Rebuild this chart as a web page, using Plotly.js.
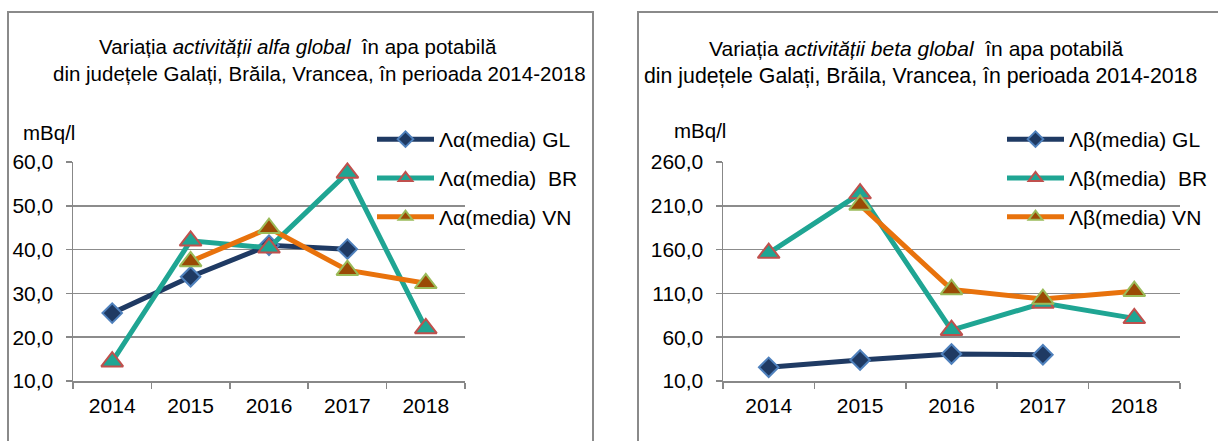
<!DOCTYPE html>
<html><head><meta charset="utf-8">
<script src="https://cdn.plot.ly/plotly-3.0.1.min.js"></script>
<style>html,body{margin:0;padding:0;background:#fff}#chart{width:1218px;height:441px}</style>
</head><body><div id="chart"></div>
<script>
const years = ['2014','2015','2016','2017','2018'];
const alphaGL = [25.5, 33.8, 41.0, 40.1, null];
const alphaBR = [14.4, 42.0, 40.4, 57.5, 22.0];
const alphaVN = [null, 37.3, 44.9, 35.3, 32.3];
const betaGL = [25.6, 34.0, 40.8, 40.0, null];
const betaBR = [156.0, 224.0, 68.0, 99.0, 81.5];
const betaVN = [null, 211.0, 114.5, 103.5, 112.5];
const alphaNames = ['Λα(media) GL','Λα(media)\u00A0\u00A0BR','Λα(media) VN'];
const betaNames = ['Λβ(media) GL','Λβ(media)\u00A0\u00A0BR','Λβ(media) VN'];
const yTicksAlpha = [10,20,30,40,50,60];
const yTicksBeta = [10,60,110,160,210,260];
const titleAlpha1 = 'Variația <i>activității alfa global</i>\u00A0\u00A0în apa potabilă';
const titleBeta1 = 'Variația <i>activității beta global</i>\u00A0\u00A0în apa potabilă';
const title2 = 'din județele Galați, Brăila, Vrancea, în perioada 2014-2018';
const unitLabel = 'mBq/l';

const W = 1218, H = 441;
const px = x => x / W;
const py = y => 1 - y / H;
const F = 'Liberation Sans, Arial, sans-serif';
const FS = 21;
const FT = 20.5;

const styles = [
  {line:{color:'#1F3A63', width:5}, marker:{symbol:'diamond', size:15, color:'#1F3A63', line:{color:'#4F81BD', width:2}}},
  {line:{color:'#1FA593', width:5}, marker:{symbol:'triangle-up', size:19, color:'#1FA593', line:{color:'#C0504D', width:2}}},
  {line:{color:'#E8720C', width:5}, marker:{symbol:'triangle-up', size:19, color:'#9A4A05', line:{color:'#9BBB59', width:2}}}
];

function mk(vals, name, i, xa, ya, leg) {
  return Object.assign({
    type:'scatter', mode:'lines+markers', x: years, y: vals, name: name,
    xaxis: xa, yaxis: ya, legend: leg, legendgroup: leg + i, connectgaps:false,
    hoverinfo:'skip'
  }, styles[i]);
}

const data = [
  mk(alphaGL, alphaNames[0], 0, 'x', 'y', 'legend'),
  mk(alphaBR, alphaNames[1], 1, 'x', 'y', 'legend'),
  mk(alphaVN, alphaNames[2], 2, 'x', 'y', 'legend'),
  mk(betaGL, betaNames[0], 0, 'x2', 'y2', 'legend2'),
  mk(betaBR, betaNames[1], 1, 'x2', 'y2', 'legend2'),
  mk(betaVN, betaNames[2], 2, 'x2', 'y2', 'legend2')
];

const xCommon = {
  type:'category', tickson:'boundaries', ticks:'outside', ticklen:6, tickcolor:'#888', tickwidth:1.5,
  showline:true, linecolor:'#888', linewidth:1.5, showgrid:false, range:[-0.5,4.5], ticklabelstandoff:5,
  tickfont:{family:F, size:FS, color:'#000'}, fixedrange:true, zeroline:false
};
const yCommon = {
  ticks:'outside', ticklen:6, tickcolor:'#888', tickwidth:1.5, showline:true, linecolor:'#888', linewidth:1.5,
  showgrid:true, gridcolor:'#8C8C8C', gridwidth:1.5, zeroline:false, tickformat:'.1f', ticklabelstandoff:8,
  tickfont:{family:F, size:FS, color:'#000'}, fixedrange:true
};
const yDom = [py(381), py(162)];

const legCommon = {
  bgcolor:'rgba(0,0,0,0)', font:{family:F, size:FS, color:'#000'}, xanchor:'left', yanchor:'top',
  tracegroupgap:8.5, itemsizing:'constant', itemwidth:57, traceorder:'grouped'
};

function ann(text, x, y, size) {
  return {text:text, x:px(x), y:py(y), xref:'paper', yref:'paper', xanchor:'center', yanchor:'middle',
          showarrow:false, font:{family:F, size:size || FT, color:'#000'}};
}

const layout = {
  width:W, height:H, margin:{l:0,r:0,t:0,b:0}, paper_bgcolor:'#fff', plot_bgcolor:'rgba(0,0,0,0)',
  separators:', ', showlegend:true,
  xaxis: Object.assign({}, xCommon, {domain:[px(73), px(465)], anchor:'y'}),
  yaxis: Object.assign({}, yCommon, {domain:yDom, range:[10,60], tickvals:yTicksAlpha, anchor:'x'}),
  xaxis2: Object.assign({}, xCommon, {domain:[px(723), px(1180)], anchor:'y2'}),
  yaxis2: Object.assign({}, yCommon, {domain:yDom, range:[10,260], tickvals:yTicksBeta, anchor:'x2'}),
  legend: Object.assign({}, legCommon, {x:px(372), y:py(119)}),
  legend2: Object.assign({}, legCommon, {x:px(1002), y:py(119)}),
  shapes: [
    {type:'rect', xref:'paper', yref:'paper', x0:px(8), x1:px(593), y0:-0.1, y1:py(12), line:{color:'#8A8A8A', width:2}},
    {type:'rect', xref:'paper', yref:'paper', x0:px(638), x1:1.05, y0:-0.1, y1:py(12), line:{color:'#8A8A8A', width:2}}
  ],
  annotations: [
    ann(titleAlpha1, 298, 47),
    ann(title2, 319, 73),
    ann(titleBeta1, 916, 48, 21),
    ann(title2, 920, 76, 21.3),
    ann(unitLabel, 49, 132),
    ann(unitLabel, 700, 130)
  ]
};

Plotly.newPlot('chart', data, layout, {staticPlot:true, displayModeBar:false});
</script>
</body></html>
